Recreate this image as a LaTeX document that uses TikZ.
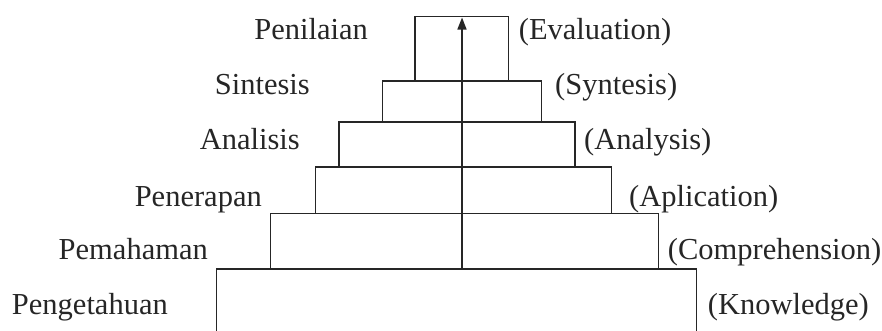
\documentclass[tikz,border=0pt]{standalone}
\usepackage{fontspec}
\setmainfont{Liberation Serif}
\usetikzlibrary{arrows.meta}
\begin{document}
\begin{tikzpicture}[x=1pt,y=-1pt,
  tier/.style={draw=black!85, line width=1.5pt, rectangle, inner sep=0pt, outer sep=0pt, anchor=north west},
  lbl/.style={inner sep=0pt, font=\fontsize{30.5}{35}\selectfont, text=black!85},
  lleft/.style={lbl, anchor=base east},
  lright/.style={lbl, anchor=base west},
  uparrow/.style={draw=black!85, line width=1.5pt, -{Triangle[length=12pt,width=9pt]}}]
\useasboundingbox (0,0) rectangle (882,330);
\begin{scope}
\clip (0,0) rectangle (882,330);
\node[tier, minimum width=480pt, minimum height=80pt] (b6) at (216.7,269) {};
\node[tier, minimum width=387.6pt, minimum height=55.7pt] (b5) at (270.7,213.3) {};
\node[tier, minimum width=296pt, minimum height=46.3pt] (b4) at (315.7,167) {};
\node[tier, minimum width=236pt, minimum height=45pt] (b3) at (339,122) {};
\node[tier, minimum width=159pt, minimum height=41pt] (b2) at (382.7,81) {};
\node[tier, minimum width=93.7pt, minimum height=64.3pt] (b1) at (415,16.7) {};
\end{scope}
\coordinate (abase) at (462,269);
\coordinate (atop) at (462,17.5);
\draw[uparrow] (abase) -- (atop);
\node[lleft] (l1) at (368,39.3) {Penilaian};
\node[lleft] (l2) at (310,94.3) {Sintesis};
\node[lleft] (l3) at (300,149) {Analisis};
\node[lleft] (l4) at (262,206) {Penerapan};
\node[lleft] (l5) at (208,259.3) {Pemahaman};
\node[lleft] (l6) at (168,314.3) {Pengetahuan};
\node[lright] (r1) at (518.7,39.3) {(Evaluation)};
\node[lright] (r2) at (555,94.3) {(Syntesis)};
\node[lright] (r3) at (584,149) {(Analysis)};
\node[lright] (r4) at (629,206) {(Aplication)};
\node[lright] (r5) at (667.7,259.3) {(Comprehension)};
\node[lright] (r6) at (707.7,314.3) {(Knowledge)};
\end{tikzpicture}
\end{document}
